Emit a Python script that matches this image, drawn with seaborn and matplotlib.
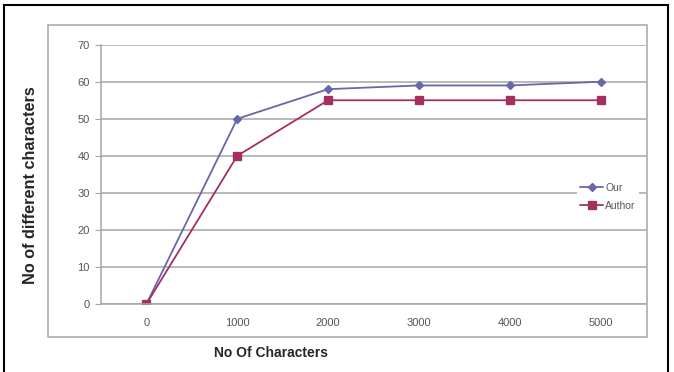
import pandas as pd
import matplotlib.pyplot as plt
import matplotlib.patches as patches
import seaborn as sns

# chart values
categories = ['0', '1000', '2000', '3000', '4000', '5000']
our = [0, 50, 58, 59, 59, 60]
author = [0, 40, 55, 55, 55, 55]
series_names = ['Our', 'Author']

df = pd.DataFrame({
    'chars': categories * 2,
    'value': our + author,
    'series': [series_names[0]] * len(categories) + [series_names[1]] * len(categories),
})

sns.set_style('white')
plt.rcParams['font.family'] = ['Liberation Sans', 'DejaVu Sans']

fig = plt.figure(figsize=(6.74, 3.72), dpi=100)
ax = fig.add_axes([101 / 674, 1 - 304 / 372, 545 / 674, (304 - 44.7) / 372])

sns.pointplot(data=df, x='chars', y='value', hue='series', order=categories,
              hue_order=series_names, palette=['#6767AB', '#A3305F'],
              markers=['D', 's'], linestyles=['-', '-'], errorbar=None,
              markersize=5, linewidth=1.3, ax=ax)

# smaller diamonds, bigger squares like the excel chart
for ln in ax.lines:
    if ln.get_marker() == 'D':
        ln.set_markersize(4.2)
    elif ln.get_marker() == 's':
        ln.set_markersize(6.2)

ax.set_xlim(-0.5, len(categories) - 0.5)
ax.set_ylim(0, 70)
ax.set_yticks(range(0, 71, 10))
ax.yaxis.grid(True, color='#a6a6a6', linewidth=1.1)
ax.set_axisbelow(True)
for s in ['top', 'right']:
    ax.spines[s].set_visible(False)
for s in ['left', 'bottom']:
    ax.spines[s].set_color('#a6a6a6')
    ax.spines[s].set_linewidth(1.1)

# excel style ticks between categories
ax.set_xticks([i - 0.5 for i in range(len(categories) + 1)], minor=True)
ax.tick_params(axis='x', which='major', length=0, pad=10, labelsize=8, labelcolor='#555555')
ax.tick_params(axis='x', which='minor', length=4, color='#a6a6a6', direction='out')
ax.tick_params(axis='y', length=4, color='#a6a6a6', direction='out', pad=4,
               labelsize=8, labelcolor='#555555', left=True)

ax.set_xlabel('No Of Characters', fontsize=10, fontweight='bold')
ax.set_ylabel('No of different characters', fontsize=11.7, fontweight='bold')
ax.xaxis.set_label_coords((271 - 101) / 545, -(353 - 304) / 259.3)
ax.xaxis.label.set_va('center')
ax.yaxis.set_label_coords(-(101 - 30) / 545, (304 - 185) / 259.3)
ax.yaxis.label.set_va('center')

leg = ax.legend(loc='upper left', bbox_to_anchor=(0.864, 0.5), frameon=True,
                facecolor='white', edgecolor='none', framealpha=1, fontsize=7.5,
                handlelength=2.2, handletextpad=0.2, labelspacing=0.8, borderpad=0.3)
for t in leg.get_texts():
    t.set_color('#555555')

# chart frames
fig.patches.append(patches.Rectangle((48 / 674, 1 - 337 / 372), 599 / 674, 312 / 372,
                                     transform=fig.transFigure, fill=False,
                                     edgecolor='#a6a6a6', linewidth=1.1))
fig.patches.append(patches.Rectangle((4 / 674, -0.02), 664 / 674, 1 - 5 / 372 + 0.02,
                                     transform=fig.transFigure, fill=False,
                                     edgecolor='black', linewidth=1.5))

fig.savefig('out.png', dpi=100)
